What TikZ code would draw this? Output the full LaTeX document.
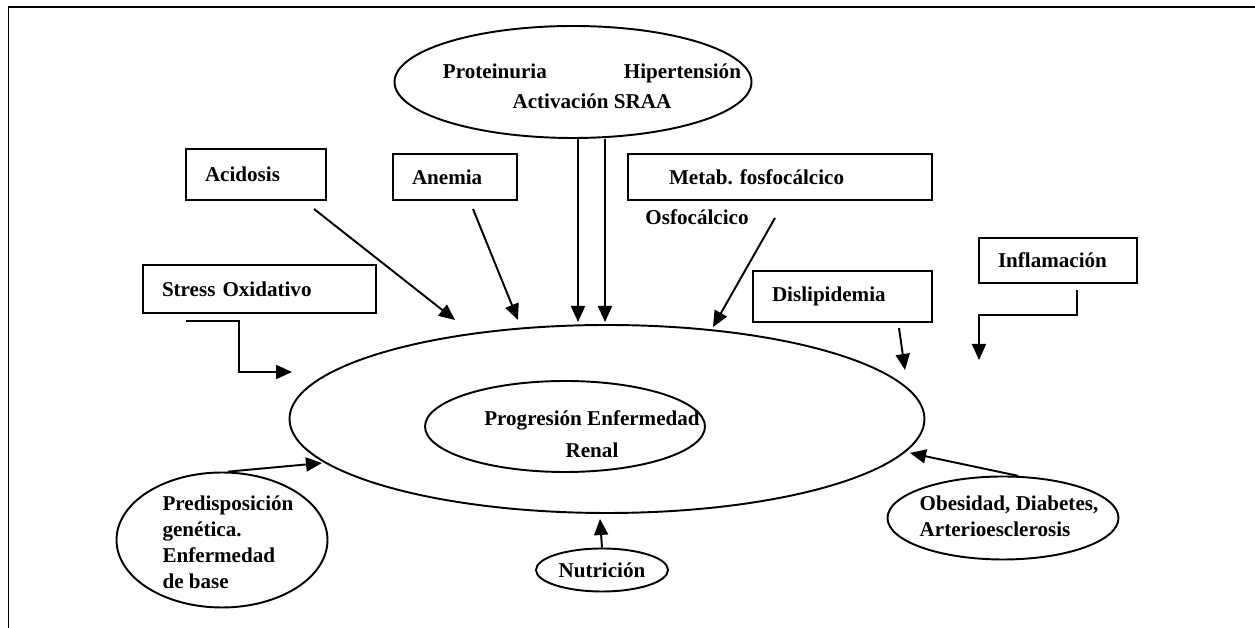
\documentclass[tikz,border=0pt]{standalone}
\usepackage{fontspec}
\setmainfont{Liberation Serif}
\usepackage{tikz}
\usetikzlibrary{shapes.geometric, arrows.meta}
\frenchspacing
\tikzset{
  factor/.style={rectangle, draw=black, line width=1.1pt, align=left,
    inner xsep=0.38cm, inner ysep=0pt,
    font=\fontsize{12}{14.5}\selectfont\bfseries},
  ring/.style={ellipse, draw=black, line width=1.1pt, inner sep=0pt,
    font=\fontsize{12}{14.5}\selectfont\bfseries},
  lbl/.style={inner sep=0pt, font=\fontsize{12}{14.8}\selectfont\bfseries},
  arrow/.style={-{Triangle[length=0.32cm, width=0.28cm]}, line width=1.1pt},
  pageframe/.style={line width=1.1pt}
}

\begin{document}
\begin{tikzpicture}
  \useasboundingbox (0,0) rectangle (25.1,12.56);

  % ── Page frame (top and left edge only) ──────────────────────────────────
  \draw[pageframe] (0.17,0) -- (0.17,12.42) -- (25.1,12.42);

  % ── Central ellipses ──────────────────────────────────────────────────────
  \node[ring, minimum width=12.7cm, minimum height=3.76cm] (prog) at (12.14,4.18) {};
  \node[ring, minimum width=5.6cm, minimum height=1.82cm] (renal) at (11.3,4.03) {};
  \node[lbl, align=center] (renal-txt) at (11.84,3.88)
       {Progresión Enfermedad\\[3.7pt]Renal};

  % ── Top ellipse ───────────────────────────────────────────────────────────
  \node[ring, minimum width=7.14cm, minimum height=2.24cm] (risk) at (11.46,10.92) {};
  \node[lbl, align=center] (risk-txt) at (11.84,10.84)
       {Proteinuria\hspace{1.54cm}Hipertensión\\[2.5pt]Activación SRAA};

  % ── Boxes ─────────────────────────────────────────────────────────────────
  \node[factor, text width=2.04cm, minimum height=1.02cm] (acid) at (5.12,9.07) {Acidosis};
  \node[factor, text width=1.72cm, minimum height=0.92cm] (anem) at (9.10,9.02) {Anemia};
  \node[factor, text width=3.90cm, minimum height=0.96cm] (stress) at (5.19,6.78) {Stress Oxidativo};
  \node[factor, inner xsep=0.82cm, text width=4.44cm, minimum height=0.92cm]
       (metab) at (15.6,9.02) {Metab. fosfocálcico};
  \node[lbl] (osfo) at (13.94,8.22) {Osfocálcico};
  \node[factor, text width=2.82cm, minimum height=1.02cm] (dislip) at (16.85,6.63) {Dislipidemia};
  \node[factor, text width=2.40cm, minimum height=0.90cm] (inflam) at (21.16,7.35) {Inflamación};

  % ── Bottom ellipses ───────────────────────────────────────────────────────
  \node[ring, minimum width=4.22cm, minimum height=2.7cm] (gen) at (4.44,1.76) {};
  \node[lbl, align=left] (gen-txt) at (4.56,1.72)
       {Predisposición\\genética.\\Enfermedad\\de base};
  \node[ring, minimum width=2.64cm, minimum height=0.86cm] (nut) at (12.04,1.16) {Nutrición};
  \node[ring, minimum width=4.62cm, minimum height=1.66cm] (obes) at (20.06,2.2) {};
  \node[lbl, align=left] (obes-txt) at (20.18,2.24)
       {Obesidad, Diabetes,\\Arterioesclerosis};

  % ── Arrow end points ──────────────────────────────────────────────────────
  \coordinate (sraa-a) at (11.56,6.12);
  \coordinate (sraa-b) at (12.10,6.12);
  \coordinate (acid-out) at (6.28,8.38);
  \coordinate (acid-in) at (9.10,6.16);
  \coordinate (anem-out) at (9.46,8.38);
  \coordinate (anem-in) at (10.36,6.16);
  \coordinate (stress-out) at (3.72,6.14);
  \coordinate (stress-in) at (5.84,5.12);
  \coordinate (osfo-out) at (15.5,8.2);
  \coordinate (osfo-in) at (14.26,6.02);
  \coordinate (dislip-out) at (17.98,6.0);
  \coordinate (dislip-in) at (18.1,5.16);
  \coordinate (inflam-out) at (21.54,6.76);
  \coordinate (inflam-in) at (19.58,5.36);
  \coordinate (gen-in) at (6.44,3.3);
  \coordinate (nut-in) at (12.0,2.18);
  \coordinate (obes-in) at (18.2,3.5);

  % ── Connections ───────────────────────────────────────────────────────────
  \draw[arrow] (risk.south -| sraa-a) -- (sraa-a);
  \draw[arrow] (risk.south -| sraa-b) -- (sraa-b);
  \draw[arrow] (acid-out) -- (acid-in);
  \draw[arrow] (anem-out) -- (anem-in);
  \draw[arrow] (stress-out) -- ++(1.06,0) |- (stress-in);
  \draw[arrow] (osfo-out) -- (osfo-in);
  \draw[arrow] (dislip-out) -- (dislip-in);
  \draw[arrow] (inflam-out) -- ++(0,-0.5) -| (inflam-in);
  \draw[arrow] (gen.85) -- (gen-in);
  \draw[arrow] (nut.north) -- (nut-in);
  \draw[arrow] (obes.70) -- (obes-in);

\end{tikzpicture}
\end{document}
